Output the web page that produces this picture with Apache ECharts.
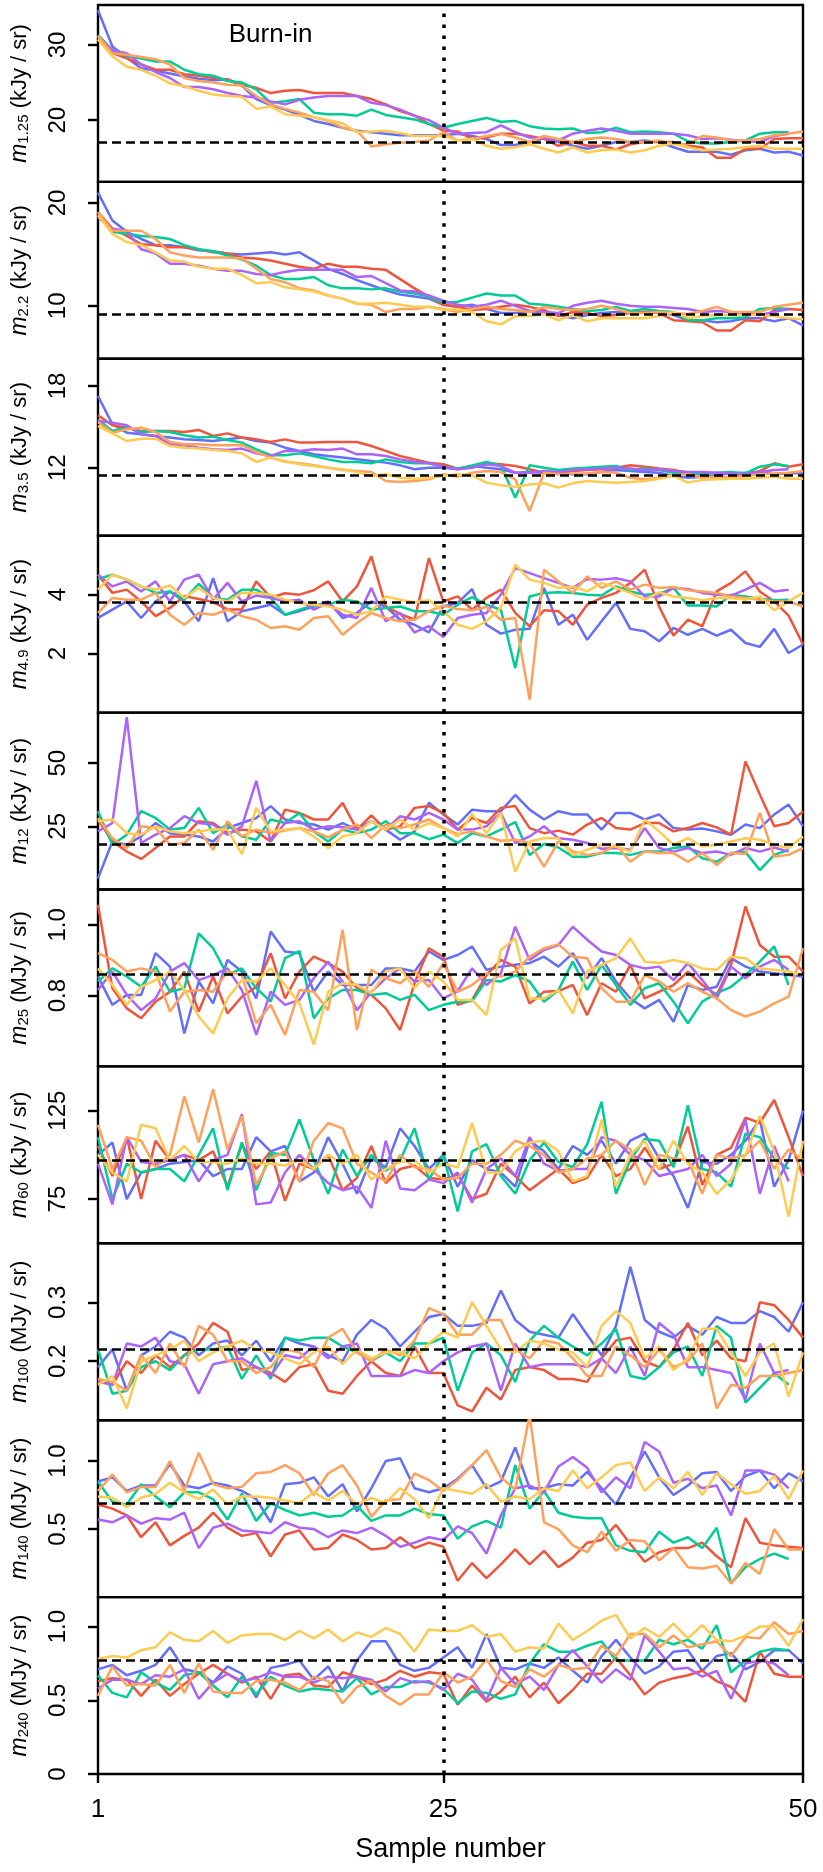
<!DOCTYPE html>
<html><head><meta charset="utf-8">
<script src="https://cdn.jsdelivr.net/npm/echarts@6/dist/echarts.min.js"></script>
<style>html,body{margin:0;padding:0;background:#fff}#c{width:823px;height:1872px}</style>
</head><body><div id="c"></div>
<script>
// x axis: sample numbers
const samples = Array.from({length: 50}, (_, i) => i + 1);
const xTicks = [1, 25, 50];
const burnInEnd = 25;
const chainColors = ['#636EFA', '#EF553B', '#00CC96', '#AB63FA', '#FFA15A', '#FECB52'];

// ---- m1.25 (kJy/sr)
const m125_A = [34.6,29.8,28.3,26.9,26.6,26.2,25.8,25.5,25.3,25.4,24.6,22.8,22.0,21.4,20.7,19.9,19.5,19.0,18.6,18.4,18.2,18.0,18.0,18.0,18.0,18.2,17.9,17.5,16.7,16.7,17.1,17.6,17.1,16.6,16.2,16.6,17.1,17.1,17.3,17.1,16.4,15.8,15.8,15.8,15.4,16.0,16.2,15.7,15.8,15.3];
const m125_B = [30.9,28.9,28.2,27.4,26.7,26.7,26.1,25.9,25.6,25.4,24.7,24.3,23.6,23.9,24.0,23.6,23.6,23.6,23.2,22.8,22.1,21.2,20.6,19.5,18.6,18.5,17.5,17.7,18.2,18.2,17.9,17.5,16.6,17.1,16.6,16.6,16.1,16.8,17.1,17.1,17.1,16.6,16.4,15.0,15.0,16.2,16.2,17.5,17.6,17.6];
const m125_C = [31.3,29.3,28.5,28.2,27.8,27.8,26.7,26.1,25.9,25.2,25.0,24.1,22.3,22.5,22.8,21.0,20.8,20.8,20.6,21.4,20.7,20.4,20.1,19.5,19.0,19.5,19.9,20.3,19.8,19.9,19.2,18.9,18.8,18.9,18.3,18.4,19.0,18.4,18.5,18.4,18.2,17.2,16.9,16.9,17.1,17.3,18.2,18.4,18.4];
const m125_D = [31.1,29.3,28.9,27.4,26.4,25.6,24.4,24.4,24.1,23.6,23.2,23.0,22.5,22.1,22.7,23.0,23.2,23.2,23.2,22.3,22.0,21.4,20.6,20.0,19.0,18.2,18.3,18.4,19.3,18.4,17.7,17.6,17.3,18.2,18.6,18.9,18.6,18.2,18.2,18.2,18.2,18.0,17.5,17.6,17.4,17.2,17.1,17.9,18.2];
const m125_E = [31.2,28.9,28.7,28.4,28.1,27.4,25.6,25.2,25.0,24.7,24.6,23.2,22.1,21.5,21.0,20.4,19.9,19.0,18.6,16.5,16.8,17.0,17.1,17.3,18.4,17.3,17.5,17.9,18.2,17.7,17.1,17.9,17.5,17.1,17.5,17.7,17.5,17.1,17.1,17.3,16.8,16.8,17.9,17.7,17.3,17.3,17.5,18.0,18.2,18.5];
const m125_F = [30.7,28.5,27.1,26.7,25.9,24.9,24.5,23.9,23.4,23.2,23.1,21.5,21.8,20.8,20.6,20.4,20.0,19.6,18.4,18.5,18.6,18.3,17.9,17.9,17.9,17.3,17.5,16.6,16.2,16.4,16.8,16.2,15.7,16.4,15.7,16.0,16.1,15.7,16.0,16.6,16.9,16.4,16.0,16.1,16.2,16.4,16.6,16.2,16.2,16.2];
const m125_true = 17.1;
const m125_ticks = [20, 30];

// ---- m2.2 (kJy/sr)
const m22_A = [21.0,18.3,17.2,16.5,15.9,15.9,15.7,15.4,15.3,15.1,15.0,15.1,15.2,15.0,15.2,14.4,13.6,13.1,12.5,12.0,11.5,11.1,10.9,10.7,10.1,9.9,10.1,9.7,9.3,9.3,9.5,9.4,9.1,8.8,9.1,9.3,9.4,9.3,9.4,9.4,9.1,8.6,8.6,8.4,8.5,8.8,8.8,8.5,8.8,8.1];
const m22_B = [19.1,17.5,16.8,16.0,15.9,15.7,15.7,15.5,15.2,15.1,14.7,14.6,14.4,14.1,13.8,13.6,14.1,13.8,13.8,13.6,13.5,12.6,11.7,10.9,10.1,9.9,9.6,9.7,9.9,10.1,9.9,9.6,9.0,9.4,9.3,9.0,9.1,9.3,9.4,9.3,8.6,8.5,8.4,7.6,7.6,8.6,8.5,9.6,9.7,9.6];
const m22_C = [18.8,17.2,17.0,16.8,16.7,16.5,15.9,15.5,15.3,14.9,14.5,13.9,13.0,12.6,12.6,12.8,12.0,11.7,11.7,11.6,11.7,11.4,11.2,10.9,10.3,10.4,10.8,11.2,11.0,11.0,10.2,10.1,9.9,9.7,9.5,9.6,9.9,9.5,9.7,9.5,9.4,8.6,8.6,8.8,8.8,8.9,9.7,9.8,9.7];
const m22_D = [18.6,17.5,17.3,15.5,15.1,14.1,14.1,13.9,13.6,13.4,13.4,13.1,13.0,13.3,13.5,13.5,13.5,13.5,12.8,12.9,12.2,11.5,11.4,11.0,10.5,10.1,9.9,10.1,10.5,10.0,9.5,9.4,9.3,10.0,10.3,10.5,10.2,10.0,9.9,9.9,9.8,9.7,9.4,9.5,9.4,9.2,9.1,9.4,9.7];
const m22_E = [19.1,17.3,17.3,17.3,16.5,15.2,14.9,14.7,14.7,14.7,14.6,13.6,12.6,12.3,11.7,11.5,11.0,10.7,10.2,10.1,9.4,9.7,9.7,9.9,9.7,9.4,9.7,9.9,9.7,9.6,9.4,9.9,9.7,9.6,9.7,10.0,9.7,9.3,9.3,9.4,9.3,9.2,9.5,9.9,9.4,9.4,9.4,9.9,10.1,10.3];
const m22_F = [18.8,17.0,16.2,15.9,15.2,14.4,14.3,13.8,13.6,13.6,13.0,12.2,12.3,11.8,11.6,11.4,11.0,10.7,10.2,10.2,10.3,10.1,9.9,9.9,9.6,9.7,9.4,8.5,8.2,9.0,9.0,9.2,8.6,9.1,8.5,8.8,8.8,8.8,8.8,9.0,9.4,8.8,9.0,9.1,9.1,9.1,9.1,9.0,8.8,8.7];
const m22_true = 9.2;
const m22_ticks = [10, 20];

// ---- m3.5 (kJy/sr)
const m35_A = [17.27,15.19,14.57,14.45,14.33,14.21,14.08,14.03,13.96,14.08,14.21,13.96,13.84,13.47,13.23,12.98,12.86,12.74,12.61,12.49,12.37,12.17,11.88,12.0,12.0,11.88,12.12,12.0,11.88,11.63,11.68,11.63,11.68,11.51,11.51,11.68,11.83,11.75,11.68,11.63,11.39,11.26,11.34,11.44,11.58,11.63,11.68,11.51,11.58,11.63];
const m35_B = [15.85,15.11,14.94,14.70,14.70,14.70,14.62,14.77,14.33,14.52,14.21,14.08,13.89,14.08,13.84,13.84,13.89,13.89,13.89,13.59,13.23,12.86,12.61,12.37,12.25,11.93,12.07,12.32,12.25,12.12,11.88,11.63,11.68,11.75,11.83,11.88,12.0,12.17,12.07,11.93,11.83,11.63,11.51,11.19,11.26,11.51,11.75,12.32,12.07,12.25];
const m35_C = [15.55,14.70,14.94,14.62,14.70,14.62,14.38,14.21,14.28,14.03,13.84,13.35,12.91,12.91,13.05,12.86,12.61,12.42,12.42,12.32,12.61,12.42,12.32,12.32,12.07,11.93,12.17,12.42,12.17,9.79,12.17,12.0,11.83,11.93,12.0,12.07,12.12,11.83,11.93,11.83,11.63,11.51,11.51,11.63,11.68,11.58,12.07,12.25,12.12];
const m35_D = [15.43,15.31,15.11,14.45,14.33,13.72,13.64,13.47,13.35,13.30,13.40,13.05,12.86,13.23,13.23,13.35,13.30,13.40,12.98,12.98,12.86,12.61,12.44,12.32,12.07,11.88,12.0,12.25,12.12,11.63,11.63,11.75,11.68,11.83,11.88,11.93,12.0,11.93,11.83,11.88,11.75,11.68,11.68,11.63,11.58,11.51,11.68,11.83,11.88];
const m35_E = [15.36,14.57,14.82,14.94,14.62,13.89,13.72,13.72,13.64,13.64,13.67,13.15,12.74,12.44,12.32,12.17,12.0,11.83,11.75,11.68,11.02,10.95,11.02,11.14,11.51,11.34,11.63,11.75,11.68,11.14,8.81,11.63,11.51,11.58,11.58,11.68,11.63,11.26,11.14,11.26,11.44,11.51,11.26,11.34,11.26,11.39,11.51,11.58,11.63,11.75];
const m35_F = [15.06,14.52,13.96,14.13,14.13,13.59,13.47,13.40,13.30,13.23,13.05,12.42,12.74,12.49,12.25,12.12,12.0,11.88,11.68,11.39,11.51,11.26,11.19,11.26,11.39,11.51,11.44,10.90,10.70,10.60,10.77,10.85,10.53,10.85,11.02,10.95,10.90,10.95,11.02,11.19,11.39,10.90,11.09,11.14,11.19,11.19,11.26,11.34,11.19,11.19];
const m35_true = 11.44;
const m35_ticks = [12, 18];

// ---- m4.9 (kJy/sr)
const m49_A = [3.21,3.49,3.77,3.21,3.77,4.11,3.77,3.10,4.56,3.10,3.44,3.55,3.66,3.32,3.44,3.60,3.77,3.21,3.38,3.77,3.60,3.15,2.98,2.72,3.60,3.72,4.19,2.98,2.68,2.81,2.84,4.23,2.98,3.32,2.47,3.10,3.72,2.84,2.76,2.42,2.87,2.64,2.84,2.61,2.81,2.36,2.23,2.84,2.02,2.31];
const m49_B = [4.68,4.06,4.17,3.77,3.27,3.55,3.95,3.85,3.75,3.5,3.5,4.45,3.9,4.05,4.0,4.15,4.45,3.77,4.28,5.3,3.6,3.35,3.15,5.24,3.77,3.94,3.49,3.89,4.17,3.38,2.93,3.47,3.44,2.98,3.66,3.89,4.06,4.40,4.85,3.60,2.61,3.15,2.93,4.11,4.40,4.79,4.11,3.77,3.29,2.31];
const m49_C = [4.53,4.68,4.51,4.28,4.06,4.11,3.83,4.37,3.89,3.83,4.17,4.17,3.89,3.32,3.49,3.63,3.66,3.83,3.77,3.49,3.55,3.60,3.44,3.44,3.32,3.66,3.92,3.66,3.49,1.51,3.94,4.06,4.08,4.06,4.0,3.97,4.28,4.11,4.0,4.03,4.23,3.63,3.63,3.60,4.0,3.94,3.85,3.81,3.83];
const m49_D = [4.68,4.28,4.45,4.11,4.45,3.77,4.51,4.68,3.83,4.40,3.77,3.97,3.89,3.77,3.83,3.49,3.72,3.32,3.21,4.23,3.10,3.38,2.72,2.93,2.56,3.21,3.32,3.38,4.0,4.90,4.73,4.56,4.40,4.23,4.53,4.51,4.56,4.45,3.94,3.94,4.23,4.19,4.06,4.0,3.97,4.17,4.40,4.11,4.17];
const m49_E = [3.38,3.89,3.83,3.83,4.06,3.32,2.98,3.38,3.32,3.49,3.27,3.15,2.87,2.93,2.81,3.21,3.27,2.64,3.04,3.38,3.21,3.10,3.15,3.44,3.63,3.51,3.47,3.58,3.15,3.21,0.44,4.85,4.45,4.06,4.62,4.23,4.45,4.17,4.34,4.23,4.26,4.15,4.11,4.06,3.94,3.89,3.83,3.77,3.77,3.60];
const m49_F = [4.17,4.68,4.51,4.28,4.17,4.31,3.89,4.23,3.89,3.77,4.06,4.06,4.0,3.83,3.72,3.66,3.60,3.49,3.32,3.44,3.94,3.83,3.74,3.81,3.44,2.98,2.84,3.10,3.55,5.02,4.51,4.40,4.23,4.28,4.11,4.40,4.23,4.06,3.83,4.08,3.94,3.89,3.81,3.89,3.89,3.83,3.94,3.47,3.77,4.06];
const m49_true = 3.73;
const m49_ticks = [2, 4];

// ---- m12 (kJy/sr)
const m12_A = [4.4,19.0,17.7,21.0,26.3,22.3,21.7,21.0,19.0,24.3,26.3,28.3,33.0,27.7,26.3,25.7,23.7,26.3,23.7,27.0,23.7,19.7,23.0,34.3,29.7,25.7,31.6,31.0,31.0,37.4,31.6,27.7,31.0,29.7,29.7,23.7,30.3,30.3,27.7,29.7,24.3,23.7,24.1,23.0,21.7,25.7,24.3,29.7,33.6,25.0];
const m12_B = [27.7,19.0,15.0,12.1,16.4,21.0,21.0,27.0,26.3,22.3,23.7,23.0,19.0,31.6,30.3,27.7,27.7,34.3,23.7,29.3,23.7,25.0,32.3,33.0,30.3,23.7,28.3,26.3,32.3,33.0,24.3,22.3,23.3,21.7,25.7,28.3,24.3,23.7,26.3,26.3,23.0,24.3,26.3,24.6,21.7,50.7,37.6,25.0,26.3,30.9];
const m12_C = [31.0,17.7,21.7,31.0,28.3,23.7,24.3,32.3,22.3,25.7,21.0,19.7,27.7,26.3,30.3,23.0,19.0,23.7,22.3,23.7,27.0,22.3,22.3,19.9,21.7,18.4,22.3,21.0,23.7,26.7,13.7,18.0,16.6,13.0,13.0,14.4,14.4,13.7,15.0,15.0,16.4,17.0,12.4,11.0,14.4,14.8,7.7,13.7,15.7];
const m12_D = [23.0,26.3,68.2,18.4,21.7,24.3,29.0,26.3,25.7,21.7,25.0,43.0,19.0,26.3,27.0,23.7,25.0,24.6,23.7,27.0,23.7,29.0,27.7,30.3,27.7,23.7,23.7,25.0,30.3,18.4,21.0,25.0,20.3,19.7,18.4,16.1,16.4,15.7,24.3,16.4,15.0,16.4,14.4,15.0,13.7,16.4,15.0,16.6,15.0];
const m12_E = [28.3,20.3,16.4,25.0,24.3,17.7,18.4,23.7,15.7,27.0,21.0,23.7,22.3,23.3,24.3,23.0,20.6,23.7,25.7,20.3,25.7,24.3,25.7,27.7,24.3,21.9,23.0,21.0,19.3,19.7,18.4,9.0,19.0,15.0,13.7,14.4,17.7,11.0,15.0,14.4,14.4,11.0,14.4,9.7,14.4,14.0,30.3,13.0,13.7,16.4];
const m12_F = [27.0,27.7,22.3,21.7,25.0,23.0,22.3,23.0,23.7,23.7,14.0,32.3,23.0,23.7,24.3,21.0,16.4,21.0,22.3,27.0,23.7,27.7,23.7,26.3,24.3,21.0,29.9,22.3,30.3,7.0,19.0,20.3,20.3,13.7,15.7,17.7,17.0,15.0,27.7,23.0,17.7,20.3,17.0,17.7,19.0,20.3,19.7,17.7,16.4,21.0];
const m12_true = 18.1;
const m12_ticks = [25, 50];

// ---- m25 (MJy/sr)
const m25_A = [0.854,0.774,0.802,0.802,0.920,0.882,0.693,0.840,0.778,0.901,0.868,0.792,0.981,0.925,0.920,0.811,0.868,0.830,0.830,0.830,0.877,0.877,0.868,0.925,0.901,0.915,0.939,0.873,0.882,0.887,0.892,0.910,0.882,0.920,0.849,0.906,0.840,0.792,0.764,0.788,0.726,0.830,0.816,0.825,0.906,0.882,0.868,0.863,0.858,0.854];
const m25_B = [1.057,0.821,0.764,0.736,0.783,0.811,0.868,0.755,0.854,0.750,0.797,0.825,0.920,0.792,0.868,0.910,0.892,0.868,0.821,0.802,0.764,0.703,0.835,0.934,0.910,0.774,0.788,0.858,0.901,0.882,0.778,0.811,0.813,0.830,0.745,0.835,0.811,0.887,0.792,0.811,0.830,0.868,0.830,0.802,0.887,1.052,0.943,0.910,0.910,0.868];
const m25_C = [0.840,0.877,0.854,0.825,0.882,0.811,0.821,0.976,0.934,0.858,0.877,0.821,0.783,0.906,0.926,0.736,0.792,0.816,0.816,0.802,0.807,0.788,0.802,0.759,0.774,0.783,0.785,0.844,0.840,0.858,0.840,0.783,0.816,0.896,0.816,0.887,0.830,0.774,0.821,0.835,0.783,0.722,0.783,0.807,0.825,0.858,0.896,0.939,0.830];
const m25_D = [0.816,0.868,0.802,0.759,0.792,0.868,0.892,0.844,0.858,0.877,0.816,0.689,0.811,0.774,0.788,0.849,0.896,0.840,0.759,0.811,0.849,0.877,0.840,0.844,0.792,0.813,0.877,0.830,0.863,0.995,0.901,0.929,0.943,0.995,0.958,0.925,0.915,0.887,0.877,0.882,0.844,0.892,0.844,0.792,0.882,0.849,0.882,0.901,0.873];
const m25_E = [0.920,0.901,0.868,0.877,0.868,0.755,0.811,0.816,0.811,0.868,0.858,0.722,0.774,0.689,0.816,0.811,0.759,0.986,0.703,0.873,0.849,0.835,0.868,0.825,0.892,0.811,0.830,0.863,0.854,0.868,0.910,0.934,0.945,0.910,0.906,0.821,0.783,0.783,0.858,0.840,0.811,0.835,0.811,0.792,0.759,0.741,0.755,0.778,0.797,0.934];
const m25_F = [0.877,0.830,0.774,0.825,0.844,0.868,0.816,0.741,0.693,0.792,0.844,0.840,0.877,0.830,0.778,0.662,0.811,0.835,0.830,0.807,0.868,0.877,0.821,0.868,0.840,0.788,0.788,0.745,0.929,0.962,0.792,0.792,0.816,0.750,0.868,0.887,0.906,0.962,0.896,0.892,0.901,0.892,0.877,0.873,0.910,0.906,0.877,0.873,0.868,0.858];
const m25_true = 0.856;
const m25_ticks = [0.8, 1.0];

// ---- m60 (kJy/sr)
const m60_A = [100,107,75,90,92,95,96,97,88,92,92,110,102,105,85,90,110,95,78,98,93,115,105,92,100,82,97,92,90,82,108,102,92,105,100,108,95,108,112,98,88,70,96,95,100,108,120,82,97,125];
const m60_B = [105,88,110,75,108,97,100,97,102,82,106,92,102,74,95,92,100,80,87,105,84,92,94,87,86,89,75,78,95,88,80,86,92,84,87,100,88,92,104,92,95,116,83,100,104,121,118,131,110,88];
const m60_C = [110,75,95,90,92,92,85,100,115,80,107,80,101,100,120,97,78,103,88,100,91,97,115,86,100,68,102,106,88,78,97,107,96,93,106,130,78,97,109,108,93,128,92,90,82,112,110,98,92];
const m60_D = [95,72,110,96,95,97,100,85,97,100,123,72,73,90,100,92,84,80,82,70,108,81,80,86,84,90,73,92,98,88,110,95,91,92,92,110,108,100,97,88,90,92,100,88,95,120,78,105,85];
const m60_E = [117,92,110,108,93,100,133,107,137,103,122,83,98,102,85,108,118,115,95,90,85,100,93,92,86,87,95,95,100,108,105,100,90,92,98,100,108,103,83,100,98,97,78,100,98,100,108,92,103,97];
const m60_F = [100,90,85,117,115,97,105,96,96,95,98,95,95,94,97,92,100,95,100,86,92,96,97,90,95,93,118,90,90,102,107,108,102,85,88,120,82,100,108,92,108,95,90,78,86,100,122,102,65,108];
const m60_true = 97;
const m60_ticks = [75, 125];

// ---- m100 (MJy/sr)
const m100_A = [0.19,0.22,0.15,0.21,0.225,0.25,0.24,0.21,0.23,0.235,0.21,0.235,0.20,0.24,0.23,0.225,0.21,0.20,0.245,0.27,0.255,0.225,0.25,0.275,0.28,0.26,0.26,0.265,0.32,0.27,0.25,0.245,0.24,0.28,0.245,0.21,0.26,0.36,0.27,0.25,0.24,0.26,0.245,0.275,0.265,0.265,0.285,0.275,0.25,0.30];
const m100_B = [0.17,0.16,0.20,0.18,0.21,0.19,0.21,0.23,0.265,0.25,0.185,0.19,0.18,0.165,0.19,0.195,0.15,0.145,0.175,0.20,0.18,0.175,0.225,0.18,0.18,0.125,0.115,0.155,0.135,0.185,0.19,0.185,0.17,0.17,0.165,0.205,0.235,0.24,0.20,0.19,0.22,0.265,0.21,0.235,0.205,0.20,0.30,0.295,0.27,0.24];
const m100_C = [0.22,0.145,0.15,0.19,0.20,0.185,0.21,0.22,0.22,0.225,0.17,0.21,0.17,0.24,0.235,0.24,0.24,0.225,0.215,0.20,0.215,0.20,0.23,0.23,0.24,0.15,0.215,0.23,0.21,0.165,0.235,0.26,0.24,0.225,0.21,0.23,0.255,0.175,0.17,0.19,0.215,0.225,0.175,0.26,0.24,0.13,0.155,0.18,0.16];
const m100_D = [0.165,0.16,0.23,0.225,0.24,0.20,0.195,0.145,0.195,0.20,0.205,0.19,0.175,0.21,0.205,0.225,0.205,0.225,0.23,0.175,0.175,0.175,0.185,0.18,0.20,0.215,0.225,0.23,0.15,0.23,0.19,0.195,0.195,0.195,0.19,0.205,0.18,0.225,0.175,0.265,0.245,0.19,0.19,0.185,0.18,0.135,0.23,0.18,0.185];
const m100_E = [0.17,0.165,0.15,0.21,0.18,0.23,0.19,0.26,0.245,0.20,0.20,0.18,0.19,0.22,0.215,0.19,0.24,0.255,0.215,0.20,0.22,0.21,0.235,0.29,0.28,0.245,0.245,0.27,0.27,0.22,0.205,0.235,0.23,0.205,0.175,0.175,0.225,0.21,0.19,0.22,0.19,0.20,0.23,0.12,0.16,0.155,0.175,0.175,0.18,0.185];
const m100_F = [0.16,0.175,0.12,0.20,0.21,0.22,0.235,0.20,0.215,0.225,0.235,0.22,0.215,0.205,0.195,0.215,0.225,0.195,0.22,0.205,0.215,0.215,0.205,0.23,0.25,0.24,0.30,0.26,0.22,0.215,0.235,0.23,0.22,0.215,0.19,0.26,0.285,0.265,0.205,0.225,0.185,0.205,0.255,0.255,0.215,0.175,0.215,0.23,0.14,0.215];
const m100_true = 0.2175;
const m100_ticks = [0.2, 0.3];

// ---- m140 (MJy/sr)
const m140_A = [0.85,0.88,0.78,0.82,0.82,0.98,0.82,0.80,0.84,0.82,0.78,0.72,0.55,0.83,0.84,0.88,0.74,0.83,0.63,0.80,1.0,1.02,0.80,0.77,0.80,0.87,0.97,0.80,0.85,1.10,0.80,0.80,0.83,0.82,0.92,0.80,0.68,0.88,1.07,0.88,0.75,0.82,0.91,0.92,0.78,0.89,0.93,0.80,0.91,0.85];
const m140_B = [0.68,0.65,0.60,0.44,0.55,0.38,0.45,0.51,0.62,0.51,0.45,0.47,0.30,0.46,0.49,0.35,0.36,0.46,0.42,0.35,0.36,0.44,0.36,0.40,0.37,0.12,0.25,0.14,0.24,0.35,0.24,0.34,0.22,0.29,0.40,0.42,0.53,0.39,0.26,0.33,0.36,0.36,0.40,0.30,0.22,0.58,0.40,0.38,0.37,0.36];
const m140_C = [0.85,0.70,0.68,0.83,0.74,0.66,0.77,0.77,0.72,0.57,0.76,0.56,0.69,0.64,0.60,0.62,0.59,0.60,0.67,0.56,0.60,0.60,0.65,0.61,0.60,0.43,0.52,0.56,0.51,0.97,0.65,0.78,0.62,0.59,0.58,0.58,0.38,0.34,0.33,0.48,0.40,0.44,0.36,0.51,0.10,0.22,0.28,0.32,0.28];
const m140_D = [0.57,0.55,0.60,0.54,0.58,0.57,0.62,0.36,0.51,0.54,0.49,0.48,0.47,0.55,0.51,0.50,0.44,0.49,0.47,0.51,0.45,0.37,0.40,0.44,0.42,0.52,0.47,0.32,0.60,0.80,0.82,0.77,0.96,1.03,0.95,0.77,0.88,0.80,1.14,1.07,0.84,0.87,0.80,0.82,0.60,0.93,0.93,0.90,0.80];
const m140_E = [0.78,0.90,0.77,0.81,0.81,1.0,0.78,1.06,0.83,0.80,0.81,0.91,0.92,0.97,0.91,0.75,0.91,0.97,0.82,0.59,0.71,0.72,0.91,0.86,0.78,0.86,0.97,1.08,0.88,0.79,1.34,0.55,0.50,0.38,0.33,0.48,0.34,0.42,0.41,0.27,0.36,0.22,0.21,0.23,0.10,0.25,0.17,0.50,0.35,0.35];
const m140_F = [0.74,0.73,0.66,0.73,0.76,0.84,0.77,0.72,0.79,0.68,0.74,0.74,0.73,0.71,0.69,0.77,0.71,0.78,0.68,0.73,0.69,0.80,0.72,0.58,0.80,0.78,0.76,0.83,0.70,0.74,0.72,0.80,0.78,0.93,0.80,0.88,0.97,0.99,0.78,0.88,0.80,0.92,0.75,0.91,0.83,0.76,0.78,0.89,0.72,0.93];
const m140_true = 0.694;
const m140_ticks = [0.5, 1.0];

// ---- m240 (MJy/sr)
const m240_A = [0.71,0.74,0.67,0.70,0.74,0.86,0.71,0.69,0.62,0.73,0.68,0.52,0.72,0.74,0.77,0.64,0.73,0.56,0.77,0.90,0.90,0.74,0.70,0.72,0.79,0.86,0.72,0.95,0.72,0.71,0.75,0.72,0.79,0.70,0.62,0.80,0.91,0.79,0.68,0.73,0.83,0.84,0.70,0.80,0.82,0.71,0.76,0.84,0.84,0.75];
const m240_B = [0.63,0.65,0.64,0.53,0.64,0.53,0.61,0.68,0.74,0.68,0.62,0.66,0.51,0.67,0.68,0.60,0.59,0.69,0.66,0.61,0.64,0.70,0.66,0.69,0.68,0.47,0.60,0.49,0.56,0.66,0.52,0.62,0.48,0.57,0.68,0.68,0.79,0.67,0.54,0.62,0.65,0.67,0.70,0.63,0.59,0.49,0.83,0.68,0.66,0.66];
const m240_C = [0.67,0.55,0.52,0.69,0.62,0.57,0.67,0.69,0.60,0.52,0.66,0.54,0.66,0.60,0.56,0.58,0.57,0.56,0.65,0.54,0.59,0.59,0.63,0.62,0.58,0.48,0.56,0.55,0.51,0.54,0.75,0.88,0.83,0.83,0.87,0.90,0.77,0.77,0.77,0.91,0.88,0.91,0.85,1.01,0.69,0.77,0.83,0.85,0.84];
const m240_D = [0.58,0.64,0.64,0.61,0.67,0.66,0.71,0.51,0.62,0.68,0.63,0.65,0.69,0.66,0.66,0.62,0.66,0.65,0.66,0.64,0.56,0.65,0.62,0.63,0.57,0.68,0.64,0.50,0.72,0.61,0.66,0.57,0.74,0.84,0.73,0.62,0.71,0.64,0.94,0.83,0.71,0.72,0.66,0.70,0.51,0.75,0.77,0.75,0.67];
const m240_E = [0.53,0.73,0.60,0.61,0.60,0.74,0.55,0.75,0.56,0.55,0.55,0.63,0.64,0.62,0.57,0.66,0.63,0.48,0.59,0.63,0.53,0.47,0.54,0.54,0.69,0.62,0.66,0.78,0.63,0.59,0.71,0.66,0.74,0.71,0.72,0.87,0.80,0.95,0.95,0.86,0.94,0.86,0.88,0.90,0.80,0.93,0.92,1.03,0.95,0.97];
const m240_F = [0.78,0.80,0.79,0.84,0.86,0.96,0.91,0.90,0.97,0.89,0.94,0.95,0.95,0.91,0.97,0.92,0.98,0.90,0.96,0.93,0.99,0.95,0.83,0.98,0.97,0.97,1.01,0.93,0.95,0.83,0.86,0.85,1.02,0.91,0.97,1.04,1.08,0.92,0.99,0.93,1.02,0.92,1.01,0.91,0.90,0.94,1.00,1.00,0.87,1.05];
const m240_true = 0.77;
const m240_ticks = [0, 0.5, 1.0];

const panels = [
  {sub: '1.25', unit: 'kJy / sr', min: 11.8, max: 35.3, dec: 0, ticks: m125_ticks, truth: m125_true, chains: [m125_A, m125_B, m125_C, m125_D, m125_E, m125_F]},
  {sub: '2.2', unit: 'kJy / sr', min: 4.85, max: 22.05, dec: 0, ticks: m22_ticks, truth: m22_true, chains: [m22_A, m22_B, m22_C, m22_D, m22_E, m22_F]},
  {sub: '3.5', unit: 'kJy / sr', min: 7.0, max: 20.0, dec: 0, ticks: m35_ticks, truth: m35_true, chains: [m35_A, m35_B, m35_C, m35_D, m35_E, m35_F]},
  {sub: '4.9', unit: 'kJy / sr', min: 0, max: 6, dec: 0, ticks: m49_ticks, truth: m49_true, chains: [m49_A, m49_B, m49_C, m49_D, m49_E, m49_F]},
  {sub: '12', unit: 'kJy / sr', min: 0, max: 70, dec: 0, ticks: m12_ticks, truth: m12_true, chains: [m12_A, m12_B, m12_C, m12_D, m12_E, m12_F]},
  {sub: '25', unit: 'MJy / sr', min: 0.6, max: 1.1, dec: 1, ticks: m25_ticks, truth: m25_true, chains: [m25_A, m25_B, m25_C, m25_D, m25_E, m25_F]},
  {sub: '60', unit: 'kJy / sr', min: 50, max: 150, dec: 0, ticks: m60_ticks, truth: m60_true, chains: [m60_A, m60_B, m60_C, m60_D, m60_E, m60_F]},
  {sub: '100', unit: 'MJy / sr', min: 0.1, max: 0.4, dec: 1, ticks: m100_ticks, truth: m100_true, chains: [m100_A, m100_B, m100_C, m100_D, m100_E, m100_F]},
  {sub: '140', unit: 'MJy / sr', min: 0, max: 1.3, dec: 1, ticks: m140_ticks, truth: m140_true, chains: [m140_A, m140_B, m140_C, m140_D, m140_E, m140_F]},
  {sub: '240', unit: 'MJy / sr', min: 0, max: 1.2, dec: 1, ticks: m240_ticks, truth: m240_true, chains: [m240_A, m240_B, m240_C, m240_D, m240_E, m240_F]}
];

const FONT = "'Liberation Sans', Arial, sans-serif";
const top0 = 5, panelH = 176.9, n = panels.length;
const grids = [], xAxes = [], yAxes = [], series = [];

panels.forEach((p, k) => {
  const last = k === n - 1;
  grids.push({left: 96, right: 20, top: top0 + k * panelH, height: panelH, show: true,
    borderColor: '#000', borderWidth: 2.4, backgroundColor: 'rgba(0,0,0,0)'});
  xAxes.push({
    gridIndex: k, type: 'value', min: 1, max: 50,
    axisLine: {show: false}, splitLine: {show: false},
    axisTick: {show: last, customValues: xTicks, length: 9, lineStyle: {color: '#000', width: 2.4}},
    axisLabel: {show: last, customValues: xTicks, fontSize: 26, color: '#000', margin: 23, fontFamily: FONT},
    name: last ? 'Sample number' : '', nameLocation: 'middle', nameGap: 62,
    nameTextStyle: {fontSize: 27, color: '#000', fontFamily: FONT}
  });
  yAxes.push({
    gridIndex: k, type: 'value', min: p.min, max: p.max,
    axisLine: {show: false}, splitLine: {show: false},
    axisTick: {show: true, customValues: p.ticks, length: 10, lineStyle: {color: '#000', width: 2.4}},
    axisLabel: {customValues: p.ticks, rotate: 90, fontSize: 24, color: '#000', margin: 28, fontFamily: FONT,
      formatter: v => (v === 0 ? '0' : v.toFixed(p.dec))},
    name: '{m|m}{s|' + p.sub + '}{u| (' + p.unit + ')}',
    nameLocation: 'middle', nameRotate: 90, nameGap: 67,
    nameTextStyle: {color: '#000', rich: {
      m: {fontSize: 23, fontStyle: 'italic', fontFamily: FONT, color: '#000', lineHeight: 26, verticalAlign: 'bottom'},
      s: {fontSize: 15, fontFamily: FONT, color: '#000', lineHeight: 15, verticalAlign: 'bottom'},
      u: {fontSize: 22, fontFamily: FONT, color: '#000', lineHeight: 26, verticalAlign: 'bottom'}
    }}
  });
  p.chains.forEach((arr, c) => {
    series.push({
      type: 'line', xAxisIndex: k, yAxisIndex: k, symbol: 'none', showSymbol: false,
      data: arr.map((v, i) => [samples[i], v]),
      lineStyle: {width: 2.5, color: chainColors[c]}, itemStyle: {color: chainColors[c]},
      clip: true, z: 2
    });
  });
  const guide = {
    type: 'line', xAxisIndex: k, yAxisIndex: k, data: [], z: 3,
    markLine: {silent: true, symbol: 'none', animation: false, label: {show: false},
      data: [
        {yAxis: p.truth, lineStyle: {color: '#000', width: 2.6, type: [9, 5]}},
        {xAxis: burnInEnd, lineStyle: {color: '#000', width: 3.5, type: [3.5, 7.5]}}
      ]}
  };
  if (k === 0) {
    guide.markPoint = {silent: true, animation: false, symbol: 'circle', symbolSize: 1,
      itemStyle: {color: 'rgba(0,0,0,0)'},
      data: [{coord: [13, 31.3], label: {show: true, position: 'inside', formatter: 'Burn-in',
        fontSize: 26, color: '#000', fontFamily: FONT}}]};
  }
  series.push(guide);
});

const chart = echarts.init(document.getElementById('c'), null, {renderer: 'canvas'});
chart.setOption({animation: false, backgroundColor: '#fff', grid: grids, xAxis: xAxes, yAxis: yAxes, series: series});
</script>
</body></html>
